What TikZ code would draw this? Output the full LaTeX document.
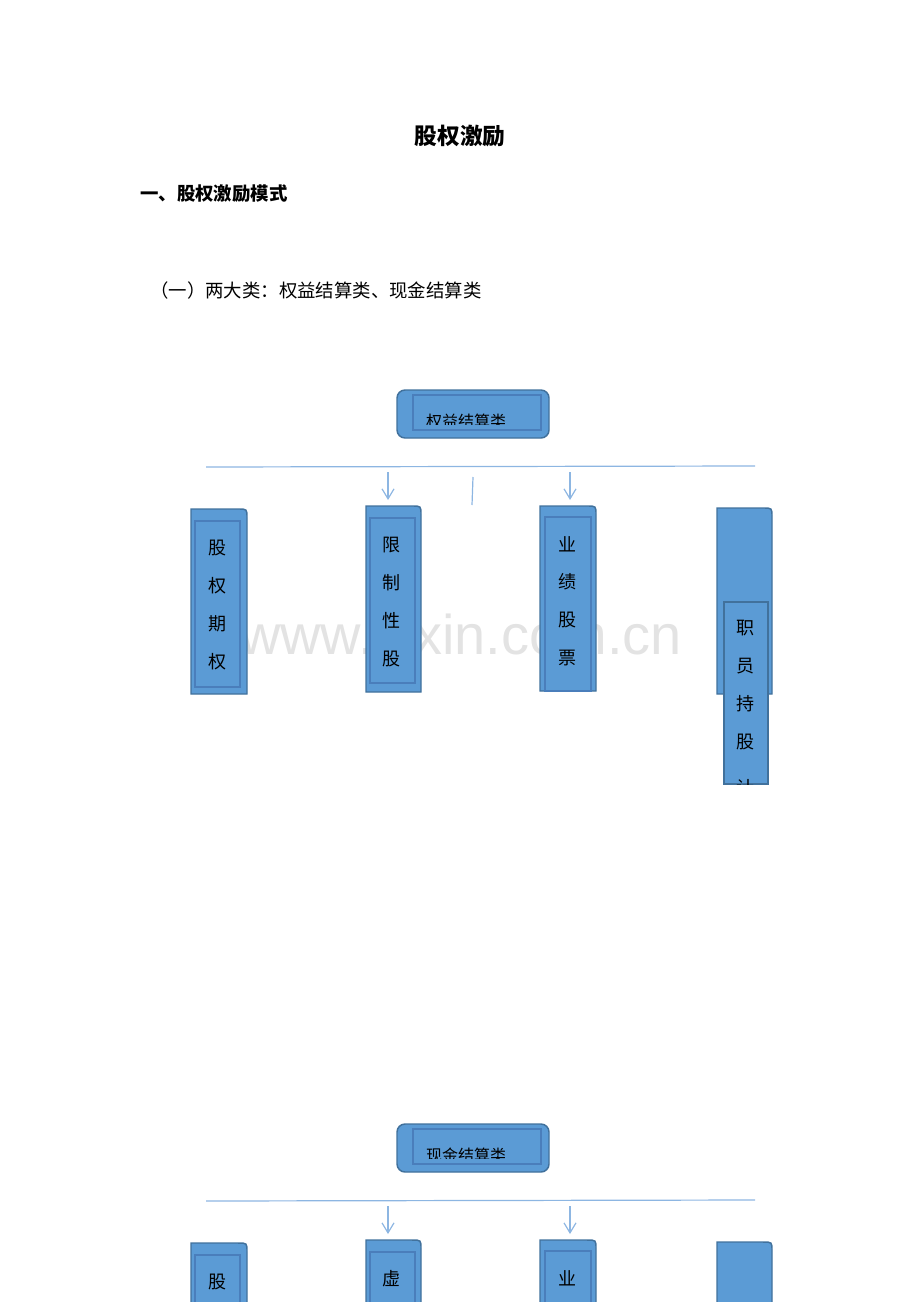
\documentclass[tikz,border=0pt]{standalone}
\usepackage{fontspec}
\setmainfont{Noto Sans CJK SC}
\newfontfamily\wmfont{Liberation Sans}
\usetikzlibrary{arrows.meta}

\definecolor{boxfill}{HTML}{5B9BD5}
\definecolor{boxline}{HTML}{41719C}
\definecolor{innerline}{HTML}{4A7EBB}
\definecolor{linkblue}{HTML}{8DB6E2}
\definecolor{wmgray}{HTML}{E3E3E3}

% box with one rounded corner (top right)
\newcommand\tabbox[5]{%
  \draw[outer] (#2,#5) -- (#2,#3) -- ({#4-9},#3)
    .. controls (#4,#3) .. (#4,{#3+9}) -- (#4,#5) -- cycle;
  \coordinate (#1) at ({(#2+#4)/2},#3);
}

\begin{document}
\begin{tikzpicture}[
  x={(0.75pt,0pt)},
  y={(0pt,-0.75pt)},
  outer/.style={fill=boxfill, draw=boxline, line width=1.1pt},
  inner/.style={draw=innerline, line width=1.1pt},
  link/.style={draw=linkblue, line width=0.9pt},
  arr/.style={link, -{Straight Barb[length=7.5pt,width=9pt]}, shorten >=4.5pt},
  vchar/.style={inner sep=0pt, font=\fontsize{13.5pt}{15pt}\selectfont},
  headbox/.style={outer, rounded corners=6pt}
]
\clip (0,0) rectangle (920,1302);
\useasboundingbox (0,0) rectangle (920,1302);

% texts
\node[font=\bfseries\fontsize{17pt}{20pt}\selectfont] (title) at (460,136) {股权激励};
\node[anchor=west, inner sep=0pt, font=\bfseries\fontsize{13.8pt}{16pt}\selectfont] (mode) at (140,194) {一、股权激励模式};
\node[anchor=west, inner sep=0pt, font=\fontsize{13.8pt}{16pt}\selectfont] (kinds) at (150,291) {（一）两大类：权益结算类、现金结算类};

% watermark
\node[text=wmgray, inner sep=0pt, font=\wmfont\fontsize{42pt}{48pt}\selectfont] (wm) at (461,634) {www.zixin.com.cn};

%%% equity settled
\draw[headbox] (397,390) rectangle (549,438);
\draw[inner] (413,395) rectangle (541,430);
\begin{scope}
  \clip (413,395) rectangle (541,424);
  \node[inner sep=0pt, font=\fontsize{12pt}{14pt}\selectfont] (qy) at (466,421) {权益结算类};
\end{scope}

\coordinate (lnL) at (206,467);
\coordinate (lnR) at (755,466);
\draw[link] (lnL) -- (lnR);

\foreach \n/\l/\t/\r/\b in {gq/191/509/247/694, xz/366/506/421/692, yj/540/506/596/691, zy/717/508/772/694}
  \tabbox{\n}{\l}{\t}{\r}{\b};

\coordinate (arA) at (388,472);
\coordinate (arB) at (570,472);
\draw[arr] (arA) -- (arA |- xz);
\draw[arr] (arB) -- (arB |- yj);
\coordinate (tkA) at (473,477);
\coordinate (tkB) at (472,505);
\draw[link] (tkA) -- (tkB);

\draw[inner] (195,521) rectangle (240,687);
\draw[inner] (370,518) rectangle (415,683);
\draw[inner] (545,517) rectangle (591,691);
\draw[outer] (724,602) rectangle (768,784);

\foreach \c [count=\i] in {股,权,期,权}
  \node[vchar] (gq-\i) at (217,{548+38*(\i-1)}) {\c};
\foreach \c [count=\i] in {限,制,性,股}
  \node[vchar] (xz-\i) at (391,{545+38*(\i-1)}) {\c};
\foreach \c [count=\i] in {业,绩,股,票}
  \node[vchar] (yj-\i) at (567,{544+38*(\i-1)}) {\c};
\begin{scope}
  \clip (724,602) rectangle (768,784);
  \foreach \c/\y [count=\i] in {职/628,员/666,持/704,股/742,计/788}
    \node[vchar] (zy-\i) at (745,\y) {\c};
\end{scope}

%%% cash settled
\draw[headbox] (397,1124) rectangle (549,1172);
\draw[inner] (413,1129) rectangle (541,1164);
\begin{scope}
  \clip (413,1129) rectangle (541,1158);
  \node[inner sep=0pt, font=\fontsize{12pt}{14pt}\selectfont] (xj) at (466,1155) {现金结算类};
\end{scope}

\coordinate (lnL2) at (206,1201);
\coordinate (lnR2) at (755,1200);
\draw[link] (lnL2) -- (lnR2);

\foreach \n/\l/\t/\r/\b in {gz/191/1243/247/1420, xn/366/1240/421/1420, yj2/540/1240/596/1420, zy2/717/1242/772/1420}
  \tabbox{\n}{\l}{\t}{\r}{\b};

\coordinate (arC) at (388,1206);
\coordinate (arD) at (570,1206);
\draw[arr] (arC) -- (arC |- xn);
\draw[arr] (arD) -- (arD |- yj2);

\draw[inner] (195,1255) rectangle (240,1420);
\draw[inner] (370,1252) rectangle (415,1420);
\draw[inner] (545,1251) rectangle (591,1420);

\node[vchar] (gz-1) at (217,1282) {股};
\node[vchar] (xn-1) at (391,1279) {虚};
\node[vchar] (yj2-1) at (567,1278) {业};
\end{tikzpicture}
\end{document}
